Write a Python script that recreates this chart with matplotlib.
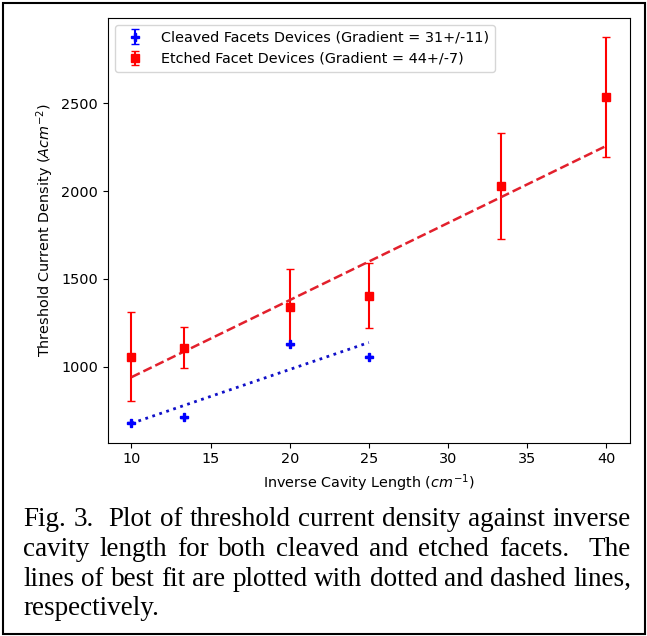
import re
import matplotlib
matplotlib.use("Agg")
import matplotlib.pyplot as plt
import matplotlib.patches as patches
import numpy as np

# data
cleaved_x = [10, 13.33, 20, 25]
cleaved_y = [681, 713, 1127, 1057]
cleaved_err = [3, 3, 3, 3]

etched_x = [10, 13.33, 20, 25, 33.33, 40]
etched_y = [1057, 1108, 1339, 1404, 2028, 2535]
etched_err = [252, 118, 215, 186, 300, 342]

caption_lines = [
    "Fig. 3.  Plot of threshold current density against inverse",
    "cavity length for both cleaved and etched facets.  The",
    "lines of best fit are plotted with dotted and dashed lines,",
    "respectively.",
]

plt.rcParams['font.size'] = 10.4

W, H = 647, 636
fig = plt.figure(figsize=(W / 100, H / 100), dpi=100)
ax = fig.add_axes([107.7 / W, 1 - 442.7 / H, (630 - 107.7) / W, (442.7 - 17.7) / H])

ax.errorbar(cleaved_x, cleaved_y, yerr=cleaved_err, fmt='bP', capsize=3,
            elinewidth=1.5, label='Cleaved Facets Devices (Gradient = 31+/-11)')
ax.errorbar(etched_x, etched_y, yerr=etched_err, fmt='rs', capsize=3,
            elinewidth=1.5, label='Etched Facet Devices (Gradient = 44+/-7)')

# lines of best fit
cx = np.array(cleaved_x)
ex = np.array(etched_x)
pc = np.polyfit(cx, cleaved_y, 1)
pe = np.polyfit(ex, etched_y, 1, w=1 / np.array(etched_err))
ax.plot(cx, np.polyval(pc, cx), color='#1010c8', ls=':', lw=2)
ax.plot(ex, np.polyval(pe, ex), color='#e2202c', ls='--', lw=1.8)

ax.set_xlabel('Inverse Cavity Length ($cm^{-1}$)')
ax.set_ylabel('Threshold Current Density ($Acm^{-2}$)')
ax.legend(loc='upper left')

# outer frame of the screenshot
fig.patches.append(patches.Rectangle((2.5 / W, 2.5 / H), (W - 5) / W, (H - 5) / H,
                                     transform=fig.transFigure, fill=False,
                                     ec='black', lw=1.5))

# justified caption
cap_font = dict(family='Liberation Serif', size=19.5)
renderer = fig.canvas.get_renderer()


def text_width(s):
    t = fig.text(0, 0, s, **cap_font)
    w = t.get_window_extent(renderer).width
    t.remove()
    return w


space_w = text_width('x x') - text_width('xx')
left, right = 23, 631
baselines = [526, 556, 586, 615]
for i, line in enumerate(caption_lines):
    words = line.split()
    gaps = [len(g) for g in re.findall(' +', line)]
    widths = [text_width(w) for w in words]
    nsp = sum(gaps)
    if i < len(caption_lines) - 1:
        extra = (right - left - sum(widths) - nsp * space_w) / nsp
    else:
        extra = 0
    x = left
    for j, w in enumerate(words):
        fig.text(x / W, 1 - baselines[i] / H, w, ha='left', va='baseline', **cap_font)
        x += widths[j]
        if j < len(gaps):
            x += gaps[j] * (space_w + extra)

fig.savefig('out.png', dpi=100)
